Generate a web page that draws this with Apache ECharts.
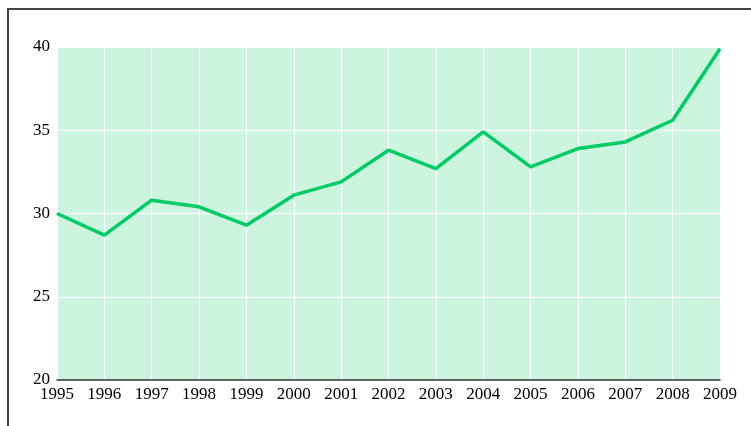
<!DOCTYPE html>
<html>
<head>
<meta charset="utf-8">
<script src="https://cdn.jsdelivr.net/npm/echarts@6/dist/echarts.min.js"></script>
<style>
  html, body { margin: 0; padding: 0; background: #fff; }
  #chart { width: 751px; height: 426px; }
</style>
</head>
<body>
<div id="chart"></div>
<script>
// Data
const years = ['1995', '1996', '1997', '1998', '1999', '2000', '2001', '2002',
               '2003', '2004', '2005', '2006', '2007', '2008', '2009'];
const values = [30.0, 28.7, 30.8, 30.4, 29.3, 31.1, 31.9, 33.8,
                32.7, 34.9, 32.8, 33.9, 34.3, 35.6, 39.9];
const yMin = 20;
const yMax = 40;
const yStep = 5;

const chart = echarts.init(document.getElementById('chart'), null, { renderer: 'canvas' });

const serif = '"Liberation Serif", "DejaVu Serif", serif';

chart.setOption({
    animation: false,
    backgroundColor: '#ffffff',
    graphic: [
        {
            // frame line along top and left edges
            type: 'rect',
            shape: { x: 8, y: 9, width: 900, height: 600 },
            style: { fill: 'none', stroke: '#444444', lineWidth: 2 },
            silent: true
        }
    ],
    grid: {
        left: 57,
        right: 31,
        top: 47,
        bottom: 46,
        show: true,
        backgroundColor: '#ccf4df',
        borderWidth: 0
    },
    xAxis: {
        type: 'category',
        data: years,
        boundaryGap: false,
        axisLine: { lineStyle: { color: '#333333', width: 1.5 } },
        axisTick: { show: false },
        axisLabel: {
            color: '#000000',
            fontFamily: serif,
            fontSize: 17,
            margin: 6
        },
        splitLine: { show: true, lineStyle: { color: '#ffffff', width: 1.2 } }
    },
    yAxis: {
        type: 'value',
        min: yMin,
        max: yMax,
        interval: yStep,
        axisLine: { show: false },
        axisTick: { show: false },
        axisLabel: {
            color: '#000000',
            fontFamily: serif,
            fontSize: 17,
            margin: 7,
            padding: [0, 0, 6, 0]
        },
        splitLine: { show: true, lineStyle: { color: '#ffffff', width: 1.2 } }
    },
    series: [
        {
            type: 'line',
            data: values,
            symbol: 'none',
            lineStyle: { color: '#00cc66', width: 3.5 },
            z: 3
        }
    ]
});
</script>
</body>
</html>
